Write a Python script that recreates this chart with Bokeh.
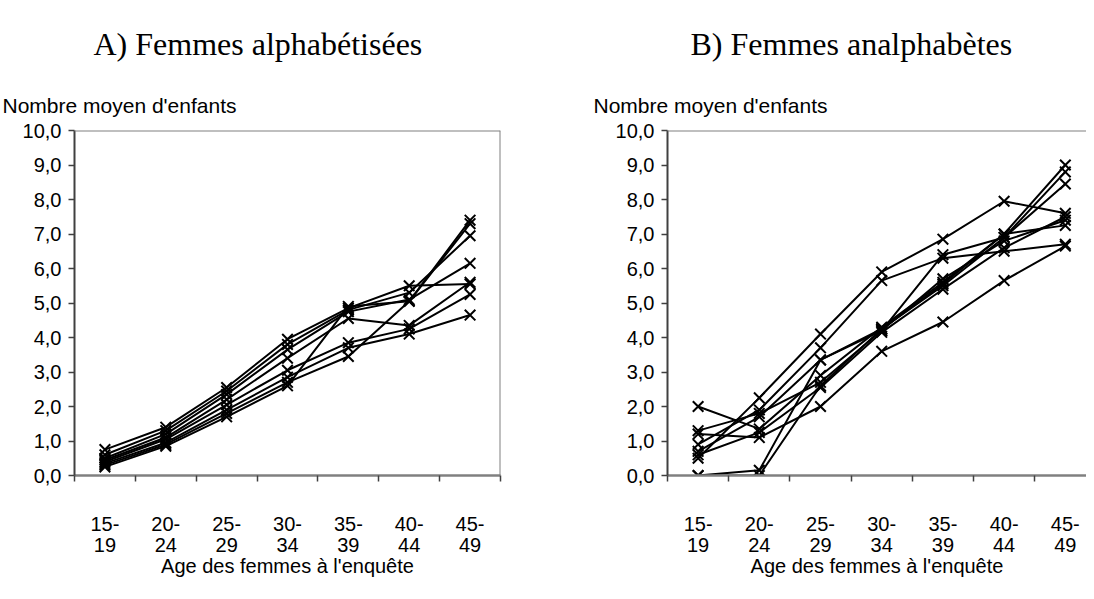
from bokeh.plotting import figure
from bokeh.models import FixedTicker, LinearAxis, Range1d, Span, Title
from bokeh.layouts import row
from bokeh.embed import file_html
from bokeh.resources import INLINE

# ---------------- data ----------------
age_top = ["15-", "20-", "25-", "30-", "35-", "40-", "45-"]
age_bottom = ["19", "24", "29", "34", "39", "44", "49"]
y_ticks = list(range(11))
y_labels = [f"{v},0" for v in y_ticks]

title_a = "A) Femmes alphabétisées"
title_b = "B) Femmes analphabètes"
y_title = "Nombre moyen d'enfants"
x_title = "Age des femmes à l'enquête"

# A) literate women - mean number of children by age group
alpha_1 = [0.75, 1.40, 2.55, 3.95, 4.85, 5.50, 5.55]
alpha_2 = [0.60, 1.30, 2.45, 3.80, 4.80, 5.30, 6.95]
alpha_3 = [0.50, 1.20, 2.35, 3.65, 4.75, 5.10, 6.15]
alpha_4 = [0.45, 1.10, 2.20, 3.40, 4.55, 4.35, 5.60]
alpha_5 = [0.40, 1.05, 2.05, 3.05, 3.85, 4.25, 5.25]
alpha_6 = [0.35, 0.95, 1.90, 2.85, 3.70, 4.10, 4.65]
alpha_7 = [0.30, 0.90, 1.80, 2.70, 3.45, 5.05, 7.40]
alpha_8 = [0.25, 0.85, 1.70, 2.60, 4.90, 5.05, 7.30]
alpha_series = [alpha_1, alpha_2, alpha_3, alpha_4, alpha_5, alpha_6, alpha_7, alpha_8]

# B) illiterate women
anal_1 = [0.50, 2.25, 4.10, 5.90, 6.85, 7.95, 7.60]
anal_2 = [0.90, 1.90, 3.70, 5.65, 6.30, 6.50, 6.70]
anal_3 = [2.00, 1.35, 2.90, 4.30, 5.60, 7.00, 9.00]
anal_4 = [1.30, 1.80, 2.70, 4.20, 6.40, 6.90, 8.80]
anal_5 = [0.70, 1.70, 3.35, 4.25, 5.50, 6.90, 8.45]
anal_6 = [0.60, 1.25, 2.55, 4.15, 5.40, 6.60, 7.50]
anal_7 = [1.20, 1.10, 2.00, 3.60, 4.45, 5.65, 6.65]
anal_8 = [0.00, 0.15, 3.35, 4.20, 5.70, 6.80, 7.40]
anal_9 = [0.00, 0.00, 2.60, 4.25, 5.55, 7.00, 7.25]
anal_series = [anal_1, anal_2, anal_3, anal_4, anal_5, anal_6, anal_7, anal_8, anal_9]

x_pos = list(range(len(age_top)))

SANS = "Liberation Sans"
SERIF = "Liberation Serif"
H = 583


def make_panel(title, series, width, left, right, x_end, title_dx, ytitle_dx, right_border):
    p = figure(width=width, height=H,
               x_range=Range1d(-0.5, x_end), y_range=Range1d(0, 10),
               output_backend="svg", toolbar_location=None,
               min_border_left=left, min_border_right=right,
               min_border_top=130, min_border_bottom=108)
    p.grid.visible = False
    p.outline_line_color = None
    p.background_fill_color = "white"
    p.border_fill_color = "white"

    # titles (closest to the frame first)
    p.add_layout(Title(text=y_title, align="left", offset=ytitle_dx, standoff=27,
                       text_font=SANS, text_font_size="21px", text_font_style="normal",
                       text_color="black"), "above")
    p.add_layout(Title(text=title, align="left", offset=title_dx, standoff=34,
                       text_font=SERIF, text_font_size="32px", text_font_style="normal",
                       text_color="black"), "above")

    # y axis
    ya = p.yaxis[0]
    ya.ticker = FixedTicker(ticks=y_ticks)
    ya.major_label_overrides = {v: lab for v, lab in zip(y_ticks, y_labels)}
    ya.axis_line_color = "#404040"
    ya.axis_line_width = 2
    ya.major_tick_out = 6
    ya.major_tick_in = 0
    ya.major_tick_line_color = "#404040"
    ya.major_tick_line_width = 1.5
    ya.minor_tick_line_color = None
    ya.major_label_text_font = SANS
    ya.major_label_text_font_size = "20px"
    ya.major_label_text_color = "black"
    ya.major_label_standoff = 7

    # x axis (first line of labels + boundary ticks)
    xa = p.xaxis[0]
    bounds = [i - 0.5 for i in range(len(age_top) + 1)]
    xa.ticker = FixedTicker(ticks=x_pos, minor_ticks=bounds)
    xa.major_label_overrides = {i: lab for i, lab in zip(x_pos, age_top)}
    xa.axis_line_color = "#808080"
    xa.axis_line_width = 2.5
    xa.major_tick_out = 0
    xa.major_tick_in = 0
    xa.major_tick_line_color = None
    xa.minor_tick_out = 6
    xa.minor_tick_in = 0
    xa.minor_tick_line_color = "#404040"
    xa.minor_tick_line_width = 1.5
    xa.major_label_text_font = SANS
    xa.major_label_text_font_size = "20px"
    xa.major_label_text_color = "black"
    xa.major_label_standoff = 35

    # second line of x labels + axis title
    xa2 = LinearAxis(ticker=FixedTicker(ticks=x_pos),
                     major_label_overrides={i: lab for i, lab in zip(x_pos, age_bottom)})
    xa2.axis_line_color = None
    xa2.major_tick_line_color = None
    xa2.minor_tick_line_color = None
    xa2.major_tick_out = 0
    xa2.major_tick_in = 0
    xa2.major_label_text_font = SANS
    xa2.major_label_text_font_size = "20px"
    xa2.major_label_text_color = "black"
    xa2.major_label_standoff = 4
    xa2.axis_label = x_title
    xa2.axis_label_text_font = SANS
    xa2.axis_label_text_font_size = "20px"
    xa2.axis_label_text_font_style = "normal"
    xa2.axis_label_text_color = "black"
    xa2.axis_label_standoff = 0
    p.add_layout(xa2, "below")

    # borders
    p.add_layout(Span(location=10, dimension="width", line_color="#808080", line_width=2))
    if right_border:
        p.add_layout(Span(location=6.5, dimension="height", line_color="#808080", line_width=2))

    for s in series:
        p.line(x_pos, s, line_color="black", line_width=2)
        p.scatter(x_pos, s, marker="x", size=15, line_color="black", line_width=2)
    return p


pa = make_panel(title_a, alpha_series, width=580, left=74, right=80, x_end=6.5,
                title_dx=19, ytitle_dx=-72, right_border=True)
pb = make_panel(title_b, anal_series, width=506, left=87, right=0, x_end=6.346,
                title_dx=23, ytitle_dx=-74, right_border=False)

layout = row(pa, pb)
open("out.html", "w").write(file_html(layout, INLINE))
